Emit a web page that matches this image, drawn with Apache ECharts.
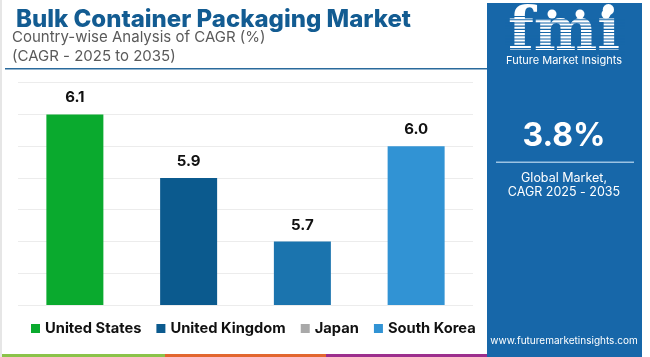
<!DOCTYPE html>
<html>
<head>
<meta charset="utf-8">
<script src="https://cdn.jsdelivr.net/npm/echarts@6/dist/echarts.min.js"></script>
<style>
html,body{margin:0;padding:0;background:#fff;}
#c{width:650px;height:357px;}
</style>
</head>
<body>
<div id="c"></div>
<script>
const categories = ['United States', 'United Kingdom', 'Japan', 'South Korea'];
const values = [6.1, 5.9, 5.7, 6.0];
const barColors = ['#0aaa2e', '#0b5a8e', '#1b74ae', '#3193d4'];
const legendColors = ['#0aaa2e', '#0b5a8e', '#a9a9a9', '#3193d4'];
const yTicks = { min: 5.5, max: 6.2, interval: 0.1 };

const chart = echarts.init(document.getElementById('c'), null, { renderer: 'canvas' });
const panel = '#1767a9';
const FONT = 'Inter, "Noto Sans", sans-serif';

const series = categories.map((name, i) => ({
  name: name,
  type: 'bar',
  barWidth: 57,
  barGap: '-100%',
  itemStyle: { color: barColors[i] },
  label: {
    show: true, position: 'top', distance: 9,
    color: '#111', fontFamily: FONT, fontWeight: 'bold', fontSize: 15,
    formatter: p => p.value.toFixed(1)
  },
  data: categories.map((c, j) => j === i ? values[i] : '-')
}));

// logo stripes
const stripes = [];
for (let y = 16; y < 56; y += 3.2) {
  stripes.push({ type: 'rect', shape: { x: 505, y: y, width: 120, height: 1.1 }, style: { fill: panel }, z: 12 });
}

chart.setOption({
  animation: false,
  title: [
    { text: 'Bulk Container Packaging Market', left: 11, top: 3,
      textStyle: { color: '#135c92', fontFamily: FONT, fontWeight: 800, fontSize: 24 } },
    { text: 'Country-wise Analysis of CAGR (%)', left: 7, top: 25,
      textStyle: { color: '#5a5a5a', fontFamily: FONT, fontWeight: 'normal', fontSize: 15 } },
    { text: '(CAGR - 2025 to 2035)', left: 7, top: 44,
      textStyle: { color: '#5a5a5a', fontFamily: FONT, fontWeight: 'normal', fontSize: 15 } }
  ],
  legend: {
    bottom: 16, left: 26,
    itemWidth: 9, itemHeight: 9, itemGap: 15, icon: 'rect',
    textStyle: { color: '#111', fontFamily: FONT, fontWeight: 'bold', fontSize: 14.7 },
    data: categories.map((c, i) => ({ name: c, itemStyle: { color: legendColors[i] } }))
  },
  grid: { left: 18, right: 177, top: 82.7, bottom: 52, containLabel: false },
  xAxis: {
    type: 'category', data: categories,
    axisLine: { show: false }, axisTick: { show: false }, axisLabel: { show: false }
  },
  yAxis: {
    type: 'value', min: yTicks.min, max: yTicks.max, interval: yTicks.interval,
    axisLine: { show: false }, axisTick: { show: false }, axisLabel: { show: false },
    splitLine: { lineStyle: { color: '#ececec', width: 1 } }
  },
  series: series,
  graphic: [
    { type: 'rect', shape: { x: 5, y: 68, width: 482, height: 1.5 }, style: { fill: '#2a6a9c' } },
    { type: 'rect', shape: { x: 0, y: 0, width: 2, height: 357 }, style: { fill: '#e6e6e6' } },
    { type: 'rect', shape: { x: 487, y: 3, width: 155, height: 354 }, style: { fill: panel }, z: 10 },
    { type: 'text', x: 564, y: 34, style: { text: 'fmi', fill: '#fff', font: 'bold 60px "DejaVu Serif", serif', align: 'center', verticalAlign: 'middle' }, z: 11 },
    ...stripes,
    { type: 'circle', shape: { cx: 552, cy: 14, r: 4.5 }, style: { fill: '#fff' }, z: 13 },
    { type: 'circle', shape: { cx: 580, cy: 14, r: 4.5 }, style: { fill: '#fff' }, z: 13 },
    { type: 'circle', shape: { cx: 606, cy: 14, r: 4.5 }, style: { fill: '#fff' }, z: 13 },
    { type: 'text', x: 564, y: 61, style: { text: 'Future Market Insights', fill: '#fff', font: '11px ' + FONT, align: 'center', verticalAlign: 'middle' }, z: 11 },
    { type: 'text', x: 564, y: 136, style: { text: '3.8%', fill: '#fff', font: 'bold 32px ' + FONT, align: 'center', verticalAlign: 'middle' }, z: 11 },
    { type: 'rect', shape: { x: 496, y: 161.5, width: 138, height: 1.5 }, style: { fill: '#9cc3e3' }, z: 11 },
    { type: 'text', x: 564, y: 178, style: { text: 'Global Market,', fill: '#fff', font: '12.5px ' + FONT, align: 'center', verticalAlign: 'middle' }, z: 11 },
    { type: 'text', x: 564, y: 192, style: { text: 'CAGR 2025 - 2035', fill: '#fff', font: '12.5px ' + FONT, align: 'center', verticalAlign: 'middle' }, z: 11 },
    { type: 'text', x: 564, y: 341, style: { text: 'www.futuremarketinsights.com', fill: '#fff', font: '10px ' + FONT, align: 'center', verticalAlign: 'middle' }, z: 11 },
    { type: 'rect', shape: { x: 2, y: 354, width: 163, height: 3 }, style: { fill: '#8bc34a' } },
    { type: 'rect', shape: { x: 165, y: 354, width: 161, height: 3 }, style: { fill: '#e2662f' } },
    { type: 'rect', shape: { x: 326, y: 354, width: 161, height: 3 }, style: { fill: '#9c2e8d' } }
  ]
});
</script>
</body>
</html>
